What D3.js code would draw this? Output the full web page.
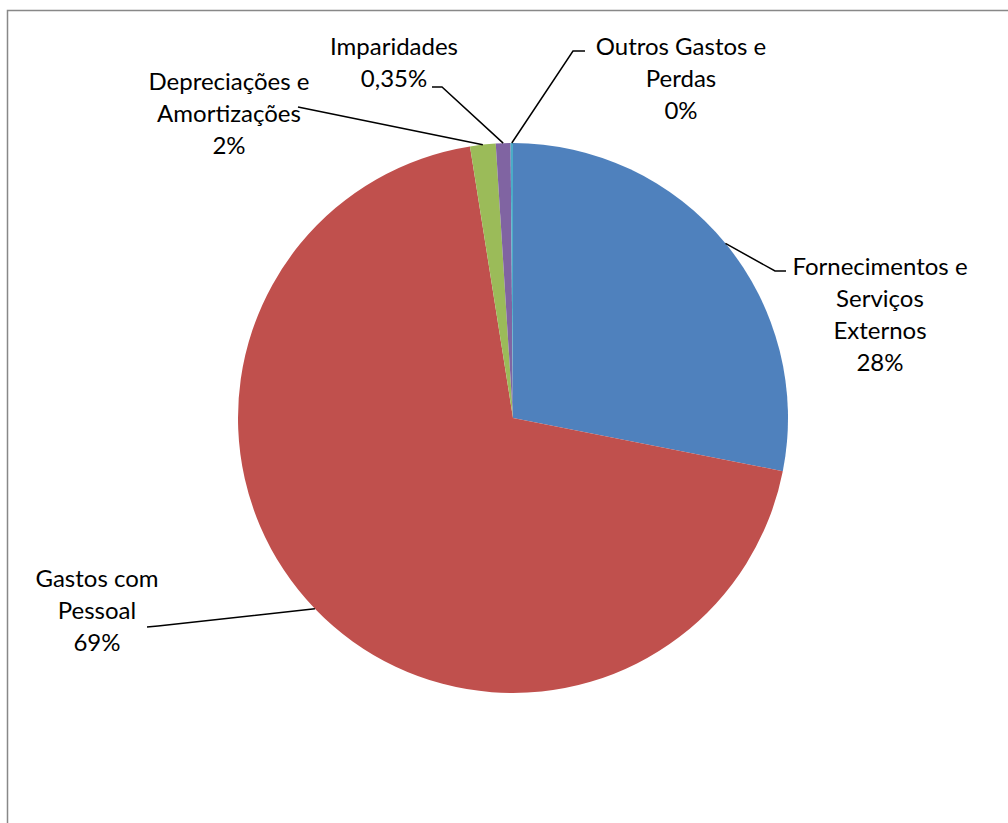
<!DOCTYPE html>
<meta charset="utf-8">
<style>
body { margin: 0; background: #fff; }
text { font-family: Lato, "Open Sans", sans-serif; font-size: 24px; fill: #000; }
</style>
<body>
<svg width="1008" height="823"></svg>
<script src="https://d3js.org/d3.v7.min.js"></script>
<script>
// data
var categories = ["Fornecimentos e Serviços Externos", "Gastos com Pessoal", "Depreciações e Amortizações", "Imparidades", "Outros Gastos e Perdas"];
var values = [28.1, 69.4, 1.5, 0.86, 0.14];
var labelLines = [
  ["Fornecimentos e", "Serviços", "Externos", "28%"],
  ["Gastos com", "Pessoal", "69%"],
  ["Depreciações e", "Amortizações", "2%"],
  ["Imparidades", "0,35%"],
  ["Outros Gastos e", "Perdas", "0%"]
];
var colors = ["#4f81bd", "#c0504d", "#9bbb59", "#8064a2", "#4bacc6"];

// label layout: text centre, first line y, and leader elbow
var labelPos = [
  {x: 880, y: 265, elbow: [775, 271], end: [786, 271]},
  {x: 97, y: 577, elbow: [158, 626], end: [147, 627]},
  {x: 229, y: 80, elbow: [298, 107], end: [298, 107]},
  {x: 394, y: 45, elbow: [442, 87], end: [432, 87]},
  {x: 681, y: 45, elbow: [573, 51], end: [585, 51]}
];

var svg = d3.select("svg");
var cx = 513, cy = 418, r = 275, lh = 32;

// frame
svg.append("rect")
    .attr("x", 7.5).attr("y", 10.5)
    .attr("width", 1100).attr("height", 900)
    .attr("fill", "none")
    .attr("stroke", "#888")
    .attr("stroke-width", 1.5);

var pie = d3.pie().sort(null)(values);
var arc = d3.arc().innerRadius(0).outerRadius(r);
var edge = d3.arc().innerRadius(r).outerRadius(r);

var g = svg.append("g").attr("transform", "translate(" + cx + "," + cy + ")");

g.selectAll("path")
    .data(pie)
  .enter().append("path")
    .attr("d", arc)
    .attr("fill", function(d, i) { return colors[i]; });

// leader lines
g.selectAll("polyline")
    .data(pie)
  .enter().append("polyline")
    .attr("fill", "none")
    .attr("stroke", "#000")
    .attr("stroke-width", 1.5)
    .attr("points", function(d, i) {
      var p = edge.centroid(d), lp = labelPos[i];
      return [p, [lp.elbow[0] - cx, lp.elbow[1] - cy], [lp.end[0] - cx, lp.end[1] - cy]]
        .map(function(q) { return q.join(","); }).join(" ");
    });

// labels
labelLines.forEach(function(lines, i) {
  var t = svg.append("text")
      .attr("text-anchor", "middle")
      .attr("dominant-baseline", "central");
  lines.forEach(function(s, j) {
    t.append("tspan")
      .attr("x", labelPos[i].x)
      .attr("y", labelPos[i].y + j * lh)
      .text(s);
  });
});
</script>
</body>
